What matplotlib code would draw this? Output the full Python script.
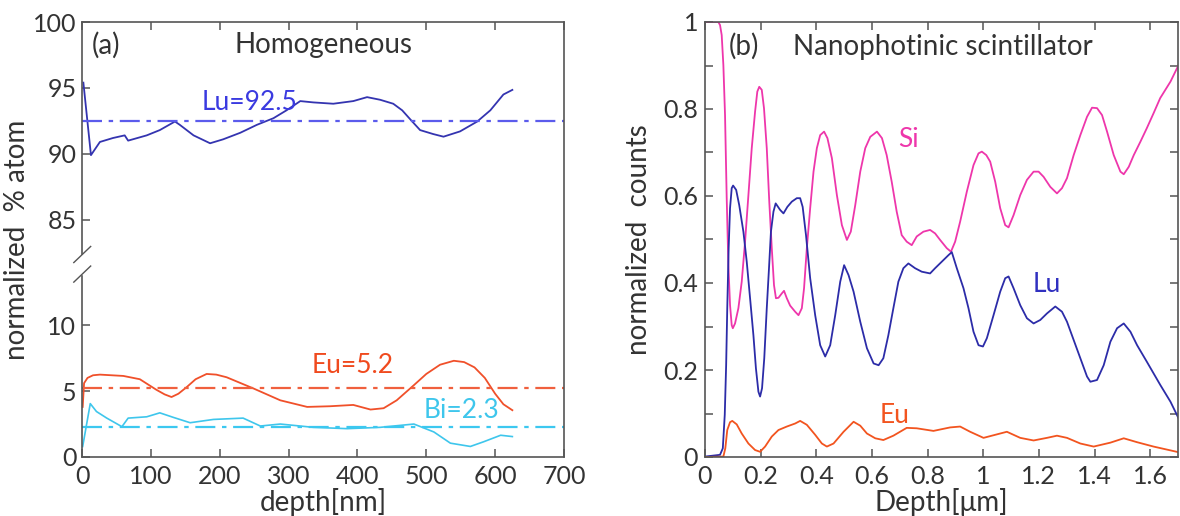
import matplotlib

matplotlib.use("Agg")
import matplotlib.pyplot as plt
import numpy as np
from matplotlib.patches import Rectangle
from matplotlib.ticker import FixedLocator, FuncFormatter, MultipleLocator

plt.rcParams["font.family"] = ["Lato", "DejaVu Sans"]

# ---- panel (a): homogeneous film, depth in nm, % atom ----
lu_x = [2, 13, 26, 45, 62, 67, 94, 113, 135, 142, 162, 186, 205, 230, 254, 278, 297, 317,
        336, 365, 394, 414, 433, 452, 465, 477, 491, 510, 525, 549, 574, 593, 612, 625]
lu_y = [95.4, 89.9, 90.9, 91.2, 91.4, 91.0, 91.4, 91.8, 92.45, 92.2, 91.4, 90.8, 91.1, 91.6,
        92.2, 92.7, 93.3, 94.0, 93.9, 93.8, 94.0, 94.3, 94.1, 93.8, 93.3, 92.6, 91.8, 91.5,
        91.3, 91.7, 92.45, 93.3, 94.5, 94.85]

eu_x = [1, 3, 8, 16, 26, 60, 84, 108, 120, 130, 140, 152, 165, 181, 195, 210, 249, 288, 327,
        360, 394, 419, 438, 457, 482, 500, 520, 540, 555, 570, 585, 600, 612, 625]
eu_y = [3.8, 5.6, 6.0, 6.2, 6.25, 6.15, 5.9, 5.1, 4.75, 4.55, 4.8, 5.3, 5.9, 6.3, 6.25, 6.05,
        5.2, 4.3, 3.8, 3.85, 3.95, 3.6, 3.7, 4.3, 5.45, 6.3, 7.0, 7.3, 7.2, 6.8, 6.0, 4.8,
        4.0, 3.55]

bi_x = [1, 12, 21, 36, 58, 67, 94, 113, 133, 157, 191, 234, 259, 288, 336, 385, 433, 482,
        511, 535, 564, 583, 608, 625]
bi_y = [0.8, 4.05, 3.45, 2.95, 2.3, 2.95, 3.05, 3.35, 3.0, 2.6, 2.85, 2.95, 2.35, 2.5,
        2.25, 2.15, 2.25, 2.5, 1.9, 1.05, 0.8, 1.15, 1.65, 1.55]

mean_lu, mean_eu, mean_bi = 92.5, 5.2, 2.3
a_xticks = [0, 100, 200, 300, 400, 500, 600, 700]
a_yticks = [0, 5, 10, 85, 90, 95, 100]

# ---- panel (b): nanophotonic scintillator, depth in um ----
si_x = [0, 0.048, 0.054, 0.060, 0.066, 0.072, 0.078, 0.084, 0.090, 0.096, 0.100, 0.108,
        0.120, 0.132, 0.144, 0.156, 0.168, 0.180, 0.188, 0.195, 0.204, 0.212, 0.222, 0.231,
        0.240, 0.248, 0.255, 0.264, 0.276, 0.284, 0.294, 0.306, 0.324, 0.336, 0.348, 0.356,
        0.366, 0.378, 0.390, 0.402, 0.414, 0.428, 0.440, 0.456, 0.474, 0.492, 0.510, 0.524,
        0.540, 0.558, 0.576, 0.594, 0.618, 0.636, 0.653, 0.671, 0.689, 0.707, 0.725, 0.743,
        0.761, 0.785, 0.809, 0.827, 0.845, 0.869, 0.884, 0.899, 0.917, 0.941, 0.965, 0.983,
        0.995, 1.011, 1.025, 1.043, 1.061, 1.079, 1.091, 1.109, 1.133, 1.157, 1.181, 1.199,
        1.217, 1.241, 1.265, 1.283, 1.301, 1.325, 1.349, 1.373, 1.391, 1.409, 1.427, 1.445,
        1.469, 1.493, 1.505, 1.523, 1.541, 1.565, 1.588, 1.612, 1.636, 1.673, 1.702]
si_y = [1.0, 1.0, 0.993, 0.970, 0.901, 0.786, 0.595, 0.441, 0.349, 0.303, 0.296, 0.307,
        0.342, 0.403, 0.495, 0.602, 0.710, 0.794, 0.840, 0.851, 0.844, 0.802, 0.710, 0.587,
        0.480, 0.395, 0.365, 0.366, 0.376, 0.382, 0.365, 0.348, 0.334, 0.326, 0.342, 0.388,
        0.480, 0.572, 0.656, 0.710, 0.740, 0.748, 0.733, 0.687, 0.602, 0.533, 0.499, 0.518,
        0.579, 0.656, 0.710, 0.736, 0.748, 0.733, 0.694, 0.633, 0.564, 0.510, 0.495, 0.487,
        0.507, 0.518, 0.522, 0.514, 0.499, 0.480, 0.472, 0.495, 0.541, 0.610, 0.671, 0.698,
        0.702, 0.694, 0.679, 0.633, 0.572, 0.533, 0.528, 0.556, 0.602, 0.637, 0.656, 0.656,
        0.644, 0.621, 0.606, 0.618, 0.641, 0.694, 0.740, 0.782, 0.803, 0.802, 0.786, 0.748,
        0.694, 0.656, 0.650, 0.667, 0.694, 0.725, 0.756, 0.790, 0.825, 0.863, 0.901]

lur_x = [0, 0.054, 0.064, 0.071, 0.076, 0.080, 0.085, 0.090, 0.096, 0.101, 0.112, 0.123,
         0.138, 0.150, 0.162, 0.174, 0.183, 0.192, 0.198, 0.205, 0.213, 0.222, 0.230, 0.237,
         0.246, 0.254, 0.270, 0.282, 0.296, 0.312, 0.330, 0.342, 0.351, 0.363, 0.378, 0.396,
         0.414, 0.432, 0.450, 0.468, 0.486, 0.500, 0.516, 0.534, 0.558, 0.582, 0.606, 0.624,
         0.641, 0.659, 0.677, 0.695, 0.713, 0.731, 0.755, 0.779, 0.809, 0.827, 0.851, 0.875,
         0.887, 0.905, 0.929, 0.947, 0.965, 0.983, 0.999, 1.013, 1.037, 1.061, 1.079, 1.091,
         1.109, 1.133, 1.157, 1.181, 1.205, 1.229, 1.259, 1.283, 1.301, 1.325, 1.349, 1.373,
         1.385, 1.409, 1.433, 1.457, 1.481, 1.505, 1.529, 1.553, 1.588, 1.636, 1.673, 1.702]
lur_y = [0.001, 0.005, 0.020, 0.097, 0.211, 0.342, 0.480, 0.572, 0.618, 0.624, 0.614, 0.579,
         0.518, 0.449, 0.365, 0.280, 0.204, 0.150, 0.139, 0.158, 0.227, 0.342, 0.434, 0.518,
         0.564, 0.583, 0.568, 0.560, 0.575, 0.587, 0.595, 0.595, 0.575, 0.510, 0.411, 0.326,
         0.257, 0.231, 0.257, 0.326, 0.403, 0.441, 0.418, 0.380, 0.311, 0.250, 0.215, 0.211,
         0.227, 0.280, 0.342, 0.403, 0.434, 0.445, 0.434, 0.426, 0.422, 0.434, 0.449, 0.464,
         0.471, 0.434, 0.388, 0.342, 0.288, 0.257, 0.254, 0.273, 0.326, 0.380, 0.411, 0.415,
         0.388, 0.349, 0.319, 0.307, 0.315, 0.330, 0.346, 0.334, 0.311, 0.269, 0.227, 0.185,
         0.173, 0.177, 0.211, 0.265, 0.296, 0.307, 0.288, 0.257, 0.219, 0.166, 0.127, 0.089]

eur_x = [0, 0.066, 0.073, 0.080, 0.090, 0.098, 0.114, 0.132, 0.156, 0.180, 0.198, 0.216,
         0.240, 0.264, 0.294, 0.324, 0.342, 0.366, 0.396, 0.420, 0.438, 0.462, 0.498, 0.534,
         0.558, 0.582, 0.612, 0.641, 0.677, 0.725, 0.761, 0.821, 0.881, 0.917, 0.953, 1.001,
         1.049, 1.085, 1.133, 1.181, 1.229, 1.265, 1.301, 1.349, 1.397, 1.457, 1.505, 1.553,
         1.612, 1.702]
eur_y = [0.0, 0.001, 0.020, 0.062, 0.080, 0.083, 0.075, 0.054, 0.031, 0.016, 0.012, 0.024,
         0.047, 0.062, 0.070, 0.077, 0.083, 0.074, 0.051, 0.031, 0.024, 0.031, 0.058, 0.081,
         0.072, 0.054, 0.043, 0.039, 0.049, 0.067, 0.066, 0.060, 0.068, 0.070, 0.058, 0.044,
         0.052, 0.058, 0.044, 0.038, 0.044, 0.049, 0.044, 0.031, 0.024, 0.033, 0.043, 0.034,
         0.024, 0.011]

b_xticks = [0, 0.2, 0.4, 0.6, 0.8, 1.0, 1.2, 1.4, 1.6]

# broken y axis: values between LOW_CUT and HIGH_CUT are squeezed out
LOW_CUT, HIGH_CUT = 14.5, 81.5


def fwd(v):
    v = np.asarray(v, dtype=float)
    return np.minimum(v, LOW_CUT) + np.maximum(v - HIGH_CUT, 0)


def inv(y):
    y = np.asarray(y, dtype=float)
    return np.where(y <= LOW_CUT, y, y + (HIGH_CUT - LOW_CUT))


FRAME = "#555555"
TXT = "#333333"
FS_TICK, FS_LAB, FS_NOTE = 18, 20, 19

fig = plt.figure(figsize=(11.8, 5.16), dpi=100)
ax1 = fig.add_axes([82 / 1180, 1 - 457 / 516, 482 / 1180, 435 / 516])
ax2 = fig.add_axes([705 / 1180, 1 - 457 / 516, 473 / 1180, 435 / 516])

for ax in (ax1, ax2):
    for sp in ax.spines.values():
        sp.set_color(FRAME)
        sp.set_linewidth(1.2)
    ax.tick_params(direction="in", length=6, width=1.1, color=FRAME, labelcolor=TXT,
                   labelsize=FS_TICK)
    ax.tick_params(axis="x", pad=6)
    ax.tick_params(axis="y", pad=4)

# panel (a)
ax1.set_yscale("function", functions=(fwd, inv))
ax1.plot(lu_x, lu_y, color="#3434b0", lw=1.3)
ax1.plot(eu_x, eu_y, color="#f0502a", lw=1.3)
ax1.plot(bi_x, bi_y, color="#3ec6ec", lw=1.2)
dashdot = (0, (9, 3, 2, 3))
ax1.axhline(mean_lu, color="#5b5bec", lw=1.6, ls=dashdot)
ax1.axhline(mean_eu, color="#f0603e", lw=1.6, ls=dashdot)
ax1.axhline(mean_bi, color="#3cc8f0", lw=1.6, ls=dashdot)
ax1.set_xlim(0, 700)
ax1.set_ylim(0, 100)
ax1.yaxis.set_major_locator(FixedLocator(a_yticks))
ax1.yaxis.set_minor_locator(FixedLocator([]))
ax1.yaxis.set_major_formatter(FuncFormatter(lambda v, p: f"{v:.0f}"))
ax1.set_xticks(a_xticks)
ax1.tick_params(top=True, right=False)
ax1.set_xlabel("depth[nm]", fontsize=FS_LAB, color=TXT, labelpad=0)
ax1.set_ylabel("normalized  % atom", fontsize=FS_LAB, color=TXT, labelpad=2)

ax1.text(174, 93.3, f"Lu={mean_lu}", color="#3a3ae0", fontsize=FS_NOTE, va="baseline")
ax1.text(334, 6.34, f"Eu={mean_eu}", color="#f04a1e", fontsize=FS_NOTE, va="baseline")
ax1.text(496, 2.93, f"Bi={mean_bi}", color="#3ec6ec", fontsize=FS_NOTE, va="baseline")
ax1.text(0.021, 0.927, "(a)", transform=ax1.transAxes, fontsize=FS_LAB, color=TXT,
         va="baseline")
ax1.text(0.317, 0.929, "Homogeneous", transform=ax1.transAxes, fontsize=FS_LAB, color=TXT,
         va="baseline")

# break marks on the left spine
ax1.add_patch(Rectangle((-0.01, 0.42), 0.02, 0.045, transform=ax1.transAxes,
                        color="white", clip_on=False, zorder=5))
for y0 in (0.447, 0.402):
    ax1.plot([-0.017, 0.018], [y0, y0 + 0.037], transform=ax1.transAxes, color=FRAME,
             lw=1.0, clip_on=False, zorder=6)

# panel (b)
ax2.plot(si_x, si_y, color="#ee36ab", lw=1.3)
ax2.plot(lur_x, lur_y, color="#2c2ca8", lw=1.3)
ax2.plot(eur_x, eur_y, color="#f2541f", lw=1.3)
ax2.set_xlim(0, 1.7)
ax2.set_ylim(0, 1)
ax2.set_xticks(b_xticks)
ax2.yaxis.set_major_locator(MultipleLocator(0.2))
ax2.yaxis.set_minor_locator(MultipleLocator(0.1))
fmt = FuncFormatter(lambda v, p: f"{v:g}")
ax2.xaxis.set_major_formatter(fmt)
ax2.yaxis.set_major_formatter(fmt)
ax2.tick_params(top=True, right=True)
ax2.tick_params(axis="y", pad=5)
ax2.tick_params(which="minor", direction="in", length=6, width=1.1, color=FRAME,
                left=True, right=True)
ax2.set_xlabel("Depth[\u03bcm]", fontsize=FS_LAB, color=TXT, labelpad=0)
ax2.set_ylabel("normalized  counts", fontsize=FS_LAB, color=TXT, labelpad=8)

ax2.text(0.694, 0.713, "Si", color="#ee36ab", fontsize=FS_NOTE, va="baseline")
ax2.text(1.176, 0.379, "Lu", color="#3030c0", fontsize=FS_NOTE, va="baseline")
ax2.text(0.629, 0.078, "Eu", color="#f2541f", fontsize=FS_NOTE, va="baseline")
ax2.text(0.051, 0.924, "(b)", transform=ax2.transAxes, fontsize=FS_LAB, color=TXT,
         va="baseline")
ax2.text(0.186, 0.924, "Nanophotinic scintillator", transform=ax2.transAxes,
         fontsize=FS_LAB, color=TXT, va="baseline")

fig.savefig("out.png", dpi=100)
